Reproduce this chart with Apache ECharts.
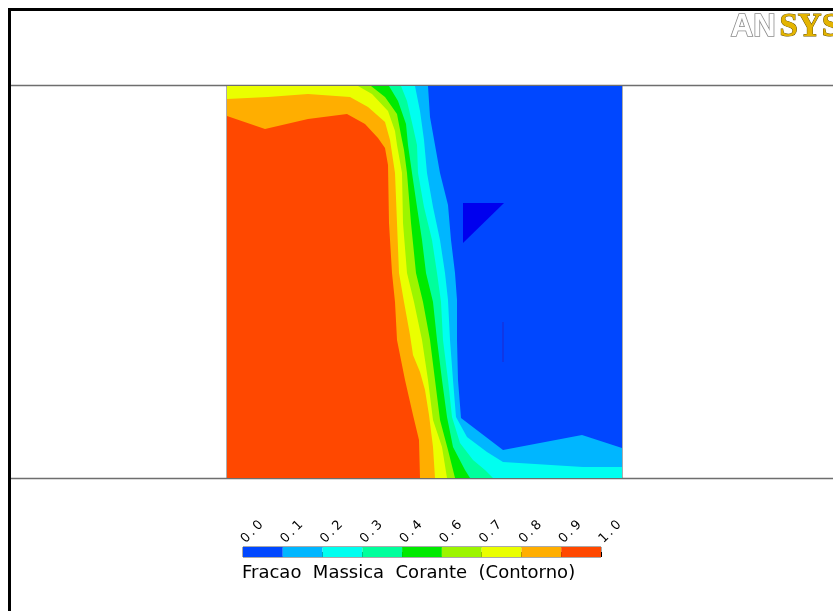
<!DOCTYPE html>
<html>
<head>
<meta charset="utf-8">
<script src="https://cdn.jsdelivr.net/npm/echarts@6/dist/echarts.min.js"></script>
<style>
  html, body { margin: 0; padding: 0; background: #fff; }
  #chart { width: 833px; height: 611px; }
</style>
</head>
<body>
<div id="chart"></div>
<script>
// Colour-bar tick labels: contour levels at ninths of 1.0, shown with one decimal
const tickLabels = ['0.0', '0.1', '0.2', '0.3', '0.4', '0.6', '0.7', '0.8', '0.9', '1.0'];

// Domain size in mm (x across the channel, y upward)
const domainWidth = 395;
const domainHeight = 392;

// Iso-lines of the mass fraction, each traced from the top/left edge to the bottom/right edge [x, y]
const contour01 = [[201,392],[203,361],[208,333],[213,305],[221,273],[224,238],[228,205],[230,178],[230,138],[231,98],[234,60],[276,28],[355,43],[395,30]];
const contour02 = [[188,392],[193,367],[197,338],[200,305],[206,271],[213,238],[218,205],[221,178],[223,138],[226,98],[229,61],[240,41],[260,26],[276,16],[356,11],[395,11]];
const contour03 = [[174,392],[180,377],[186,351],[190,333],[191,305],[197,271],[205,238],[210,205],[214,176],[216,138],[221,98],[225,61],[233,35],[246,18],[258,8],[266,0]];
const contour04 = [[162,392],[171,377],[179,354],[181,333],[185,305],[190,271],[195,238],[199,205],[206,176],[210,138],[215,98],[220,61],[226,31],[238,8],[243,0]];
const contour06 = [[144,392],[158,381],[170,364],[174,343],[177,328],[180,305],[184,255],[189,205],[196,176],[203,138],[208,98],[213,58],[221,28],[228,0]];
const contour07 = [[131,392],[145,384],[161,367],[168,347],[170,333],[175,305],[176,255],[180,205],[187,176],[195,138],[201,98],[206,58],[215,31],[220,0]];
const contour08 = [[0,379],[41,381],[81,384],[123,381],[141,371],[158,356],[163,338],[168,305],[170,255],[172,205],[177,176],[183,143],[186,123],[193,106],[198,88],[202,63],[206,31],[208,0]];
const contour09 = [[0,362],[38,349],[81,359],[120,364],[138,354],[151,340],[158,330],[161,313],[162,255],[165,205],[168,176],[170,138],[178,98],[186,63],[192,38],[193,0]];

// Small pocket below the lowest level, and a thin streak inside the low region
const lowPocket = [[236,275],[277,275],[236,235]];
const lowStreak = [[276,156],[276,116]];

// Fill colours of the nine bands, lowest to highest
const bandColors = ['#0047ff', '#00b6ff', '#00fff0', '#00ff9c', '#00ea00', '#9cf500', '#eaff00', '#ffae00', '#ff4800'];
const underColor = '#0000ee';

// Region at or above each level: close each iso-line through the left side of the domain
function closeRegion(line) {
  const pts = [];
  if (line[0][0] > 0) pts.push([0, domainHeight]);
  pts.push(...line);
  if (line[line.length - 1][0] >= domainWidth) pts.push([domainWidth, 0]);
  pts.push([0, 0]);
  return pts;
}
const regions = [
  { points: [[0, domainHeight], [domainWidth, domainHeight], [domainWidth, 0], [0, 0]], color: bandColors[0] },
  { points: closeRegion(contour01), color: bandColors[1] },
  { points: closeRegion(contour02), color: bandColors[2] },
  { points: closeRegion(contour03), color: bandColors[3] },
  { points: closeRegion(contour04), color: bandColors[4] },
  { points: closeRegion(contour06), color: bandColors[5] },
  { points: closeRegion(contour07), color: bandColors[6] },
  { points: closeRegion(contour08), color: bandColors[7] },
  { points: closeRegion(contour09), color: bandColors[8] },
  { points: lowPocket, color: underColor }
];

const chart = echarts.init(document.getElementById('chart'), null, { renderer: 'canvas' });

const option = {
  backgroundColor: '#ffffff',
  animation: false,
  title: {
    text: 'Fracao  Massica  Corante  (Contorno)',
    left: 242,
    top: 564,
    padding: 0,
    textStyle: { fontFamily: 'DejaVu Sans', fontSize: 18, fontWeight: 'normal', color: '#000' }
  },
  grid: [
    { left: 227, top: 86, width: 395, height: 392, show: true, borderColor: '#5a5a5a', borderWidth: 1, backgroundColor: 'transparent' },
    { left: 243, top: 547, width: 358, height: 10 }
  ],
  xAxis: [
    { gridIndex: 0, type: 'value', min: 0, max: domainWidth, show: false },
    {
      gridIndex: 1, type: 'category', data: tickLabels, boundaryGap: false, position: 'top',
      axisLine: { show: false },
      axisTick: { show: true, length: 5, inside: false, lineStyle: { color: '#000', width: 1 } },
      axisLabel: {
        rotate: 45, margin: 6, fontFamily: 'DejaVu Sans', fontSize: 13, color: '#000', interval: 0,
        // widely spaced decimal point, as in the solver's legend font
        formatter: v => v.charAt(0) + '{p|.}' + v.charAt(2),
        rich: { p: { fontFamily: 'DejaVu Sans', fontSize: 13, color: '#000', padding: [0, 3, 0, 2] } }
      },
      splitLine: { show: false }
    }
  ],
  yAxis: [
    { gridIndex: 0, type: 'value', min: 0, max: domainHeight, show: false },
    { gridIndex: 1, type: 'value', min: 0, max: 1, show: false }
  ],
  series: [
    {
      type: 'custom',
      xAxisIndex: 0, yAxisIndex: 0,
      data: regions.map((r, i) => [i]),
      renderItem: function (params, api) {
        const r = regions[params.dataIndex];
        return {
          type: 'polygon',
          shape: { points: r.points.map(p => api.coord(p)) },
          style: { fill: r.color, stroke: null }
        };
      },
      silent: true
    },
    {
      type: 'custom',
      xAxisIndex: 0, yAxisIndex: 0,
      data: [[0]],
      renderItem: function (params, api) {
        return {
          type: 'polyline',
          shape: { points: lowStreak.map(p => api.coord(p)) },
          style: { stroke: '#1a2fd6', lineWidth: 1.2, fill: null }
        };
      },
      silent: true
    },
    {
      type: 'custom',
      xAxisIndex: 1, yAxisIndex: 1,
      data: bandColors.map((c, i) => [i]),
      renderItem: function (params, api) {
        const i = params.dataIndex;
        const a = api.coord([i, 1]);
        const b = api.coord([i + 1, 0]);
        return {
          type: 'rect',
          shape: { x: a[0], y: a[1], width: b[0] - a[0], height: b[1] - a[1] },
          style: { fill: bandColors[i], stroke: null }
        };
      },
      silent: true
    }
  ],
  graphic: [
    // page frame
    { type: 'rect', shape: { x: 8, y: 8, width: 825, height: 3 }, style: { fill: '#000' }, silent: true },
    { type: 'rect', shape: { x: 8, y: 8, width: 3, height: 603 }, style: { fill: '#000' }, silent: true },
    // viewport separators
    { type: 'line', shape: { x1: 11, y1: 85.5, x2: 833, y2: 85.5 }, style: { stroke: '#6e6e6e', lineWidth: 1.5 }, silent: true },
    { type: 'line', shape: { x1: 11, y1: 478.5, x2: 833, y2: 478.5 }, style: { stroke: '#6e6e6e', lineWidth: 1.5 }, silent: true },
    // colour bar outline
    { type: 'rect', shape: { x: 243, y: 547, width: 358, height: 10 }, style: { fill: null, stroke: '#555', lineWidth: 1 }, silent: true },
    // logo
    { type: 'text', left: 730, top: 11, style: { text: 'AN', font: 'bold 31px "Liberation Sans"', fill: '#ffffff', stroke: '#8a8a8a', lineWidth: 1.6 }, silent: true },
    { type: 'text', left: 779, top: 10, style: { text: 'SYS', font: 'bold 33px "Liberation Serif"', fill: '#e4b400', stroke: '#6a5400', lineWidth: 1 }, silent: true }
  ]
};

chart.setOption(option);
</script>
</body>
</html>
